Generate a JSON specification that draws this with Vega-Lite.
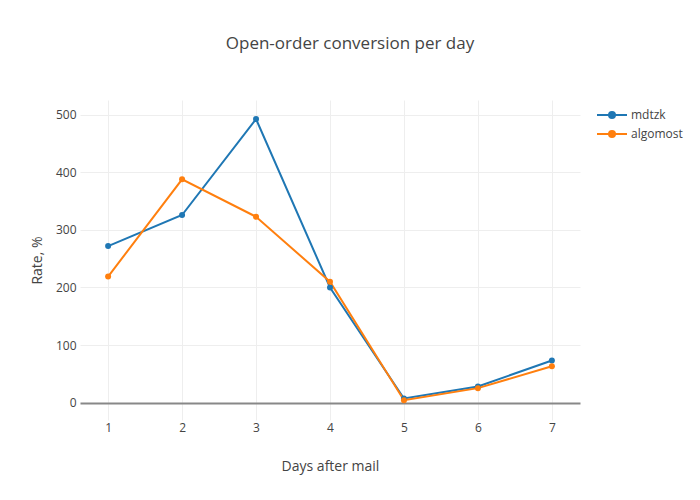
{
  "$schema": "https://vega.github.io/schema/vega-lite/v6.json",
  "autosize": "none",
  "padding": {"left": 80, "top": 100, "right": 120, "bottom": 80},
  "width": 500,
  "height": 320,
  "background": "white",
  "config": {
    "font": "Open Sans",
    "view": {"stroke": null},
    "axis": {"labelColor": "#444", "titleColor": "#444", "labelFont": "Open Sans", "titleFont": "Open Sans", "titleFontWeight": "normal", "labelFontSize": 12, "titleFontSize": 14}
  },
  "title": {"text": "Open-order conversion per day", "fontSize": 17, "fontWeight": "normal", "color": "#444", "font": "Open Sans", "anchor": "middle", "dx": 20, "offset": 47},
  "data": {"values": [
    {"day": 1, "rate": 272, "series": "mdtzk"},
    {"day": 2, "rate": 326, "series": "mdtzk"},
    {"day": 3, "rate": 493, "series": "mdtzk"},
    {"day": 4, "rate": 200, "series": "mdtzk"},
    {"day": 5, "rate": 7, "series": "mdtzk"},
    {"day": 6, "rate": 28, "series": "mdtzk"},
    {"day": 7, "rate": 73, "series": "mdtzk"},
    {"day": 1, "rate": 219, "series": "algomost"},
    {"day": 2, "rate": 388, "series": "algomost"},
    {"day": 3, "rate": 323, "series": "algomost"},
    {"day": 4, "rate": 210, "series": "algomost"},
    {"day": 5, "rate": 4, "series": "algomost"},
    {"day": 6, "rate": 25, "series": "algomost"},
    {"day": 7, "rate": 63, "series": "algomost"}
  ]},
  "mark": {"type": "line", "strokeWidth": 2, "point": {"size": 36, "filled": true, "opacity": 1}},
  "encoding": {
    "x": {"field": "day", "type": "quantitative", "title": "Days after mail",
      "scale": {"domain": [0.62, 7.38], "nice": false, "zero": false},
      "axis": {"values": [1,2,3,4,5,6,7], "domain": false, "ticks": false, "labelPadding": 2, "gridColor": "#eee", "titleY": 46, "titleBaseline": "middle"}},
    "y": {"field": "rate", "type": "quantitative", "title": "Rate, %",
      "scale": {"domain": [-30.4, 526], "nice": false, "zero": false},
      "axis": {"values": [0,100,200,300,400,500], "domain": false, "ticks": false, "labelPadding": 4,
        "gridColor": {"condition": {"test": "datum.value === 0", "value": "#888"}, "value": "#eee"},
        "gridWidth": {"condition": {"test": "datum.value === 0", "value": 2}, "value": 1},
        "titleX": -43, "titleY": 160, "titleAngle": -90, "titleBaseline": "middle", "titleAlign": "center"}},
    "color": {"field": "series", "type": "nominal",
      "scale": {"domain": ["mdtzk", "algomost"], "range": ["#1f77b4", "#ff7f0e"]},
      "legend": {"title": null, "orient": "none", "legendX": 523, "legendY": 6, "padding": 0,
        "symbolType": "M-1.875,0H1.875M-0.375,0A0.375,0.375 0 1,1 0.375,0A0.375,0.375 0 1,1 -0.375,0Z",
        "symbolSize": 256, "symbolStrokeWidth": 2, "labelOffset": 10, "rowPadding": 3,
        "labelFontSize": 12, "labelColor": "#444", "labelFont": "Open Sans"}}
  }
}
